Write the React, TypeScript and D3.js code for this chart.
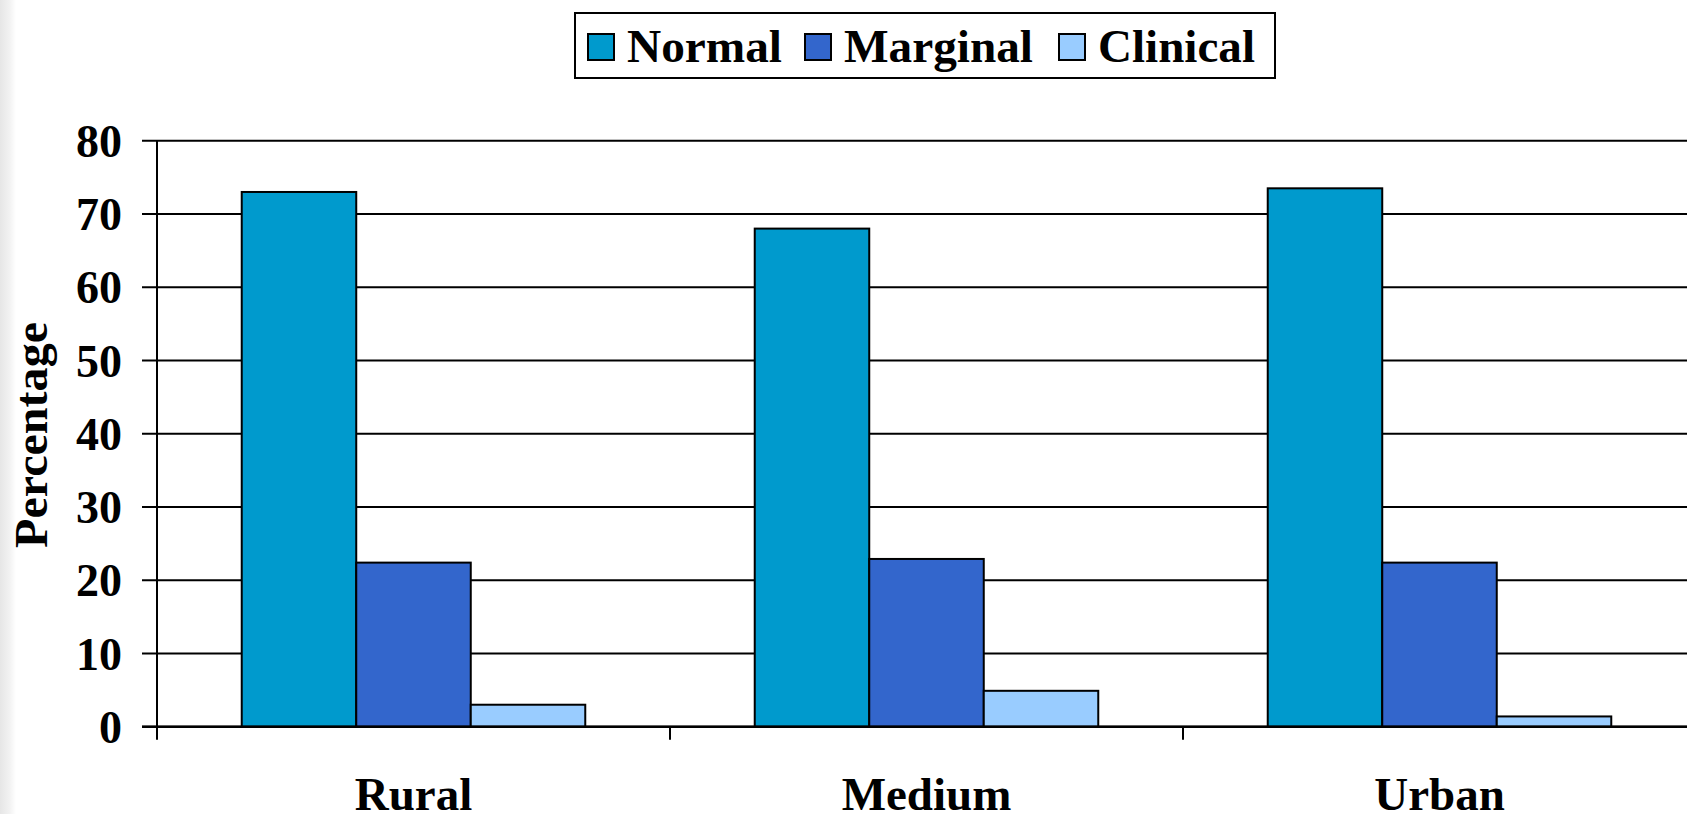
import React from "react";
import * as d3 from "d3";

const categories = ["Rural", "Medium", "Urban"];
const seriesNames = ["Normal", "Marginal", "Clinical"];
const normalValues = [73, 68, 73.5];
const marginalValues = [22.4, 22.9, 22.4];
const clinicalValues = [3, 4.9, 1.4];
const yTicks = [0, 10, 20, 30, 40, 50, 60, 70, 80];
const colors = ["#009ACD", "#3366CC", "#99CCFF"];

const W = 1687;
const H = 814;
const FONT = "'Liberation Serif', 'Times New Roman', Times, serif";

export default function App() {
  const series = [normalValues, marginalValues, clinicalValues];
  const axisX = 157;
  const step = 513;
  const y = d3.scaleLinear().domain([0, 80]).range([726.7, 140.7]);
  const x0 = d3
    .scaleBand<string>()
    .domain(categories)
    .range([axisX, axisX + step * categories.length])
    .paddingInner(0)
    .paddingOuter(0);
  const x1 = d3
    .scaleBand<string>()
    .domain(seriesNames)
    .range([0, x0.bandwidth()])
    .paddingInner(0)
    .paddingOuter(0.74);

  const legendX = [588, 805, 1059];
  const legendTextW = [155, 189, 157];

  return (
    <svg
      width={W}
      height={H}
      style={{ position: "absolute", left: 0, top: 0, background: "#fff" }}
      fontFamily={FONT}
    >
      <defs>
        <linearGradient id="edge" x1="0" x2="1" y1="0" y2="0">
          <stop offset="0" stopColor="#e6e6e6" />
          <stop offset="0.6" stopColor="#f2f2f2" />
          <stop offset="1" stopColor="#ffffff" />
        </linearGradient>
      </defs>
      <rect x={0} y={0} width={W} height={H} fill="#fff" />
      <rect x={0} y={0} width={16} height={H} fill="url(#edge)" />

      {/* gridlines + y ticks */}
      {yTicks.map((t) => (
        <g key={t}>
          <line x1={142} x2={W} y1={y(t)} y2={y(t)} stroke="#000" strokeWidth={2} />
          <text
            x={122}
            y={y(t)}
            dy="0.35em"
            textAnchor="end"
            fontSize={46}
            fontWeight="bold"
          >
            {t}
          </text>
        </g>
      ))}

      {/* bars */}
      {categories.map((c, ci) => (
        <g key={c} transform={`translate(${x0(c)},0)`}>
          {seriesNames.map((s, si) => (
            <rect
              key={s}
              x={x1(s)}
              y={y(series[si][ci])}
              width={x1.bandwidth()}
              height={y(0) - y(series[si][ci])}
              fill={colors[si]}
              stroke="#000"
              strokeWidth={2}
            />
          ))}
        </g>
      ))}

      {/* axes */}
      <line x1={axisX} x2={axisX} y1={y(80)} y2={y(0) + 13} stroke="#000" strokeWidth={2} />
      <line x1={142} x2={W} y1={y(0)} y2={y(0)} stroke="#000" strokeWidth={2.5} />
      {categories.map((c, i) =>
        i > 0 ? (
          <line
            key={c}
            x1={x0(c)}
            x2={x0(c)}
            y1={y(0)}
            y2={y(0) + 13}
            stroke="#000"
            strokeWidth={2}
          />
        ) : null
      )}
      {categories.map((c) => (
        <text
          key={c}
          x={(x0(c) as number) + x0.bandwidth() / 2}
          y={810}
          textAnchor="middle"
          fontSize={47}
          fontWeight="bold"
        >
          {c}
        </text>
      ))}

      {/* y title */}
      <text
        transform={`translate(47,435) rotate(-90)`}
        textAnchor="middle"
        fontSize={46}
        fontWeight="bold"
        textLength={226}
        lengthAdjust="spacingAndGlyphs"
      >
        Percentage
      </text>

      {/* legend */}
      <rect x={575} y={13} width={700} height={65} fill="#fff" stroke="#000" strokeWidth={2} />
      {seriesNames.map((s, i) => (
        <g key={s}>
          <rect
            x={legendX[i]}
            y={34}
            width={26}
            height={26}
            fill={colors[i]}
            stroke="#000"
            strokeWidth={2}
          />
          <text
            x={legendX[i] + 39}
            y={62}
            fontSize={46}
            fontWeight="bold"
            textLength={legendTextW[i]}
            lengthAdjust="spacingAndGlyphs"
          >
            {s}
          </text>
        </g>
      ))}
    </svg>
  );
}
